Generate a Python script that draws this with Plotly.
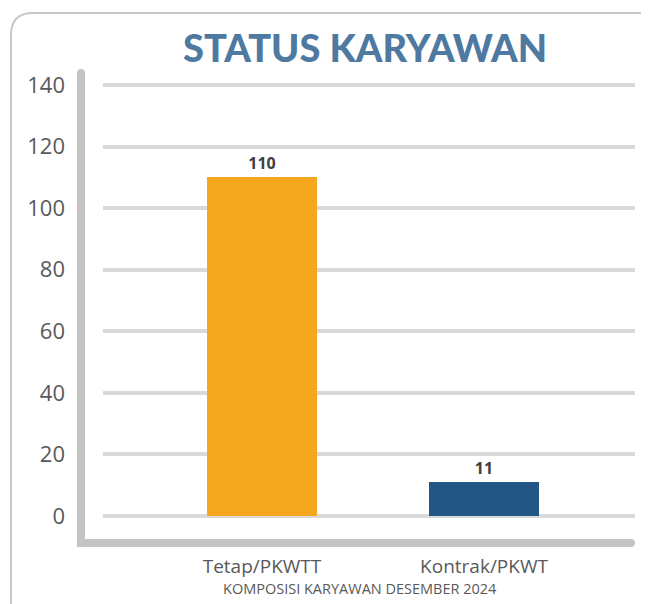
import plotly.graph_objects as go

categories = ["Tetap/PKWTT", "Kontrak/PKWT"]
values = [110, 11]
bar_colors = ["#F5A81E", "#225683"]
y_ticks = [0, 20, 40, 60, 80, 100, 120, 140]
title_text = "STATUS KARYAWAN"
subtitle_text = "KOMPOSISI KARYAWAN DESEMBER 2024"

OFF = 8  # page body margin
W, H = 649, 604
L, R, T, B = 103 - OFF, 635 - OFF, 80 - OFF, 521 - OFF  # plot area in figure px


def px(x):
    return (x - OFF - L) / (R - L)


def py(y):
    return (B - (y - OFF)) / (B - T)


fig = go.Figure()
fig.add_trace(go.Bar(
    x=categories, y=values,
    marker=dict(color=bar_colors, line=dict(width=0)),
    width=0.495,
    text=values, textposition="outside", cliponaxis=False,
    textfont=dict(family="Open Sans", size=16, color="#404040", weight="bold"),
    hoverinfo="skip",
))

axis_col = "#c4c4c4"
shapes = []
# outer rounded border
r = 22
x0, y0 = 11, 13
xe, ye = 670, 625
path = (f"M {px(xe)},{py(y0)} L {px(x0 + r)},{py(y0)} "
        f"Q {px(x0)},{py(y0)} {px(x0)},{py(y0 + r)} "
        f"L {px(x0)},{py(ye)}")
shapes.append(dict(type="path", path=path, xref="paper", yref="paper",
                   line=dict(color="#c8c8c8", width=2)))
# L-shaped axis
shapes.append(dict(type="line", xref="paper", yref="paper",
                   x0=px(81), x1=px(81), y0=py(73), y1=py(547),
                   line=dict(color=axis_col, width=8)))
shapes.append(dict(type="line", xref="paper", yref="paper",
                   x0=px(77), x1=px(631), y0=py(543), y1=py(543),
                   line=dict(color=axis_col, width=8)))
for (cx, cy) in [(81, 73), (631, 543)]:
    shapes.append(dict(type="circle", xref="paper", yref="paper",
                       x0=px(cx - 4), x1=px(cx + 4), y0=py(cy - 4), y1=py(cy + 4),
                       fillcolor=axis_col, line=dict(width=0)))

fig.update_layout(
    width=W, height=H,
    margin=dict(l=L, r=W - R, t=T, b=H - B, pad=0),
    paper_bgcolor="white", plot_bgcolor="white",
    showlegend=False,
    bargap=0,
    shapes=shapes,
    font=dict(family="Open Sans", color="#595959"),
    xaxis=dict(
        type="category", range=[-0.716, 1.680],
        showgrid=False, zeroline=False, showline=False, ticks="",
        tickfont=dict(family="Open Sans", size=19, color="#595959"),
        ticklabelstandoff=32,
        fixedrange=True,
    ),
    yaxis=dict(
        range=[-1.62, 141.62], tickvals=y_ticks,
        showgrid=True, gridcolor="#d9d9d9", gridwidth=4,
        zeroline=False, showline=False, ticks="",
        tickfont=dict(family="Open Sans", size=22, color="#595959"),
        ticklabelstandoff=37,
        fixedrange=True,
    ),
    annotations=[
        dict(text=title_text, xref="paper", yref="paper",
             x=px(365), y=py(47), xanchor="center", yanchor="middle",
             showarrow=False,
             font=dict(family="Lato", size=38, color="#4E79A1", weight=900)),
        dict(text=subtitle_text, xref="paper", yref="paper",
             x=px(360), y=py(588), xanchor="center", yanchor="middle",
             showarrow=False,
             font=dict(family="Open Sans", size=14.5, color="#595959")),
    ],
)

fig.write_html("out.html")
